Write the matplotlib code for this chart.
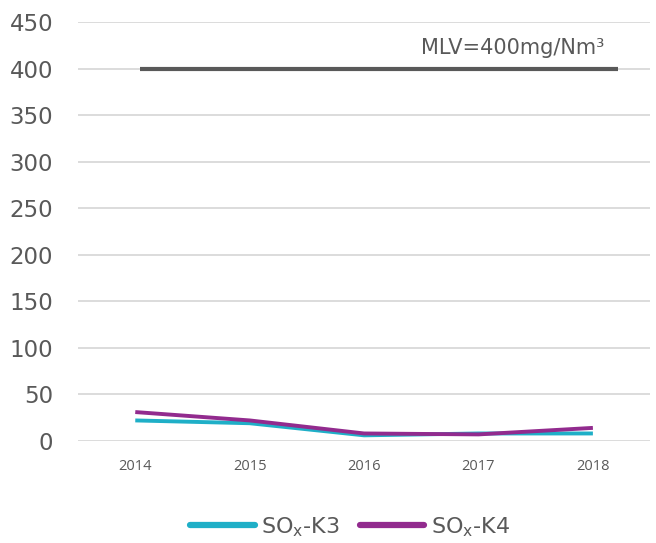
import matplotlib.pyplot as plt
import numpy as np

years = ['2014', '2015', '2016', '2017', '2018']
sox_k3 = [22, 19, 6, 8, 8]
sox_k4 = [31, 22, 8, 7, 14]
mlv = 400
y_ticks = [0, 50, 100, 150, 200, 250, 300, 350, 400, 450]

cyan = '#1FAFC7'
purple = '#922B8E'
grey = '#595959'

fig = plt.figure(figsize=(6.56, 5.43), dpi=100)
ax = fig.add_axes([0.119, 0.188, 0.872, 0.7715])

x = np.arange(len(years))
ax.plot(x, sox_k3, color=cyan, lw=2.8, solid_capstyle='butt', label=r'SO$_\mathrm{x}$-K3', zorder=3)
ax.plot(x, sox_k4, color=purple, lw=2.8, solid_capstyle='butt', label=r'SO$_\mathrm{x}$-K4', zorder=4)

# limit line, drawn a bit past the last year like the original
ax.hlines(mlv, 0.04, 4.22, color=grey, lw=3, zorder=2)
ax.text(3.3, mlv + 11, 'MLV=400mg/Nm³', color=grey, fontsize=15,
        ha='center', va='bottom')

ax.set_xlim(-0.5, 4.5)
ax.set_ylim(0, 450)
ax.set_yticks(y_ticks)
ax.set_xticks(x)
ax.set_xticklabels(years, fontsize=10.5, color=grey, family='Open Sans')
ax.tick_params(axis='y', labelsize=16.5, colors=grey, length=0, pad=18)
ax.tick_params(axis='x', length=0, pad=13, colors=grey)
ax.grid(axis='y', color='#D9D9D9', lw=1.3, zorder=0)
ax.set_axisbelow(True)
for s in ax.spines.values():
    s.set_visible(False)

leg = fig.legend(loc='center', bbox_to_anchor=(0.534, 0.03), ncol=2, frameon=False,
                 fontsize=16, handlelength=2.9, handletextpad=0.3, columnspacing=0.9)
for line in leg.get_lines():
    line.set_linewidth(4.5)
    line.set_solid_capstyle('round')
for t in leg.get_texts():
    t.set_color(grey)

fig.savefig('out.png', dpi=100)
